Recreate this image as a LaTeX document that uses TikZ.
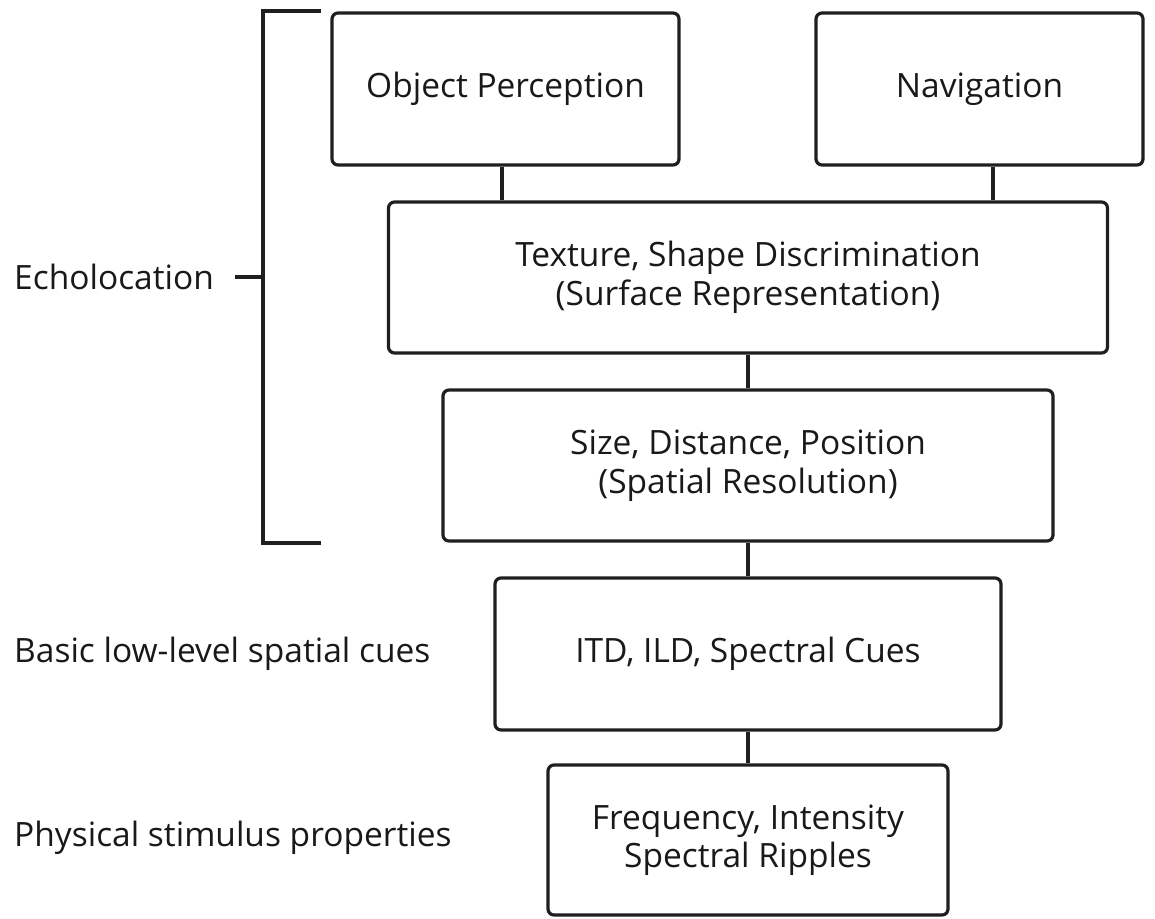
\documentclass[tikz,border=0pt]{standalone}
\usepackage{fontspec}
\setmainfont{Open Sans}
\begin{document}
\begin{tikzpicture}[x=1pt,y=-1pt,
  ink/.style={line width=3.2pt,draw=black!88},
  level/.style={ink,rounded corners=6pt,align=center,inner sep=0pt,
    font=\fontsize{33.5}{38.5}\selectfont,text=black!90},
  side/.style={anchor=west,inner sep=0pt,font=\fontsize{33.5}{38.5}\selectfont,text=black!90}]
\useasboundingbox (0,0) rectangle (1155,918);

% boxes of the hierarchy
\node[level,minimum width=347pt,minimum height=152pt] (op)   at (505.5,89)  {Object Perception};
\node[level,minimum width=327pt,minimum height=152pt] (nav)  at (979.5,89)  {Navigation};
\node[level,minimum width=719pt,minimum height=151pt] (tex)  at (748,277.5) {Texture, Shape Discrimination\\(Surface Representation)};
\node[level,minimum width=610pt,minimum height=151pt] (size) at (748,465.5) {Size, Distance, Position\\(Spatial Resolution)};
\node[level,minimum width=506pt,minimum height=152pt] (itd)  at (748,654)  {ITD, ILD, Spectral Cues};
\node[level,minimum width=400pt,minimum height=150pt] (freq) at (748,840)  {Frequency, Intensity\\Spectral Ripples};

% links between levels
\draw[ink] ([xshift=-3.5pt]op.south) -- ([xshift=-3.5pt]op.south |- tex.north);
\draw[ink] ([xshift=13.5pt]nav.south) -- ([xshift=13.5pt]nav.south |- tex.north);
\draw[ink] (tex.south) -- (size.north);
\draw[ink] (size.south) -- (itd.north);
\draw[ink] (itd.south) -- (freq.north);

% side labels
\node[side] (echo)  at (14,277) {Echolocation};
\node[side] (basic) at (14,654) {Basic low-level spatial cues};
\node[side] (phys)  at (14,838) {Physical stimulus properties};

% bracket grouping the echolocation levels
\coordinate (btop) at (321,11);
\coordinate (bbot) at (321,543);
\coordinate (bmid) at (263,277);
\coordinate (tick) at (235,277);
\draw[ink] (btop) -- (btop -| bmid) -- (bbot -| bmid) -- (bbot);
\draw[ink] (tick) -- (bmid);
\end{tikzpicture}
\end{document}
